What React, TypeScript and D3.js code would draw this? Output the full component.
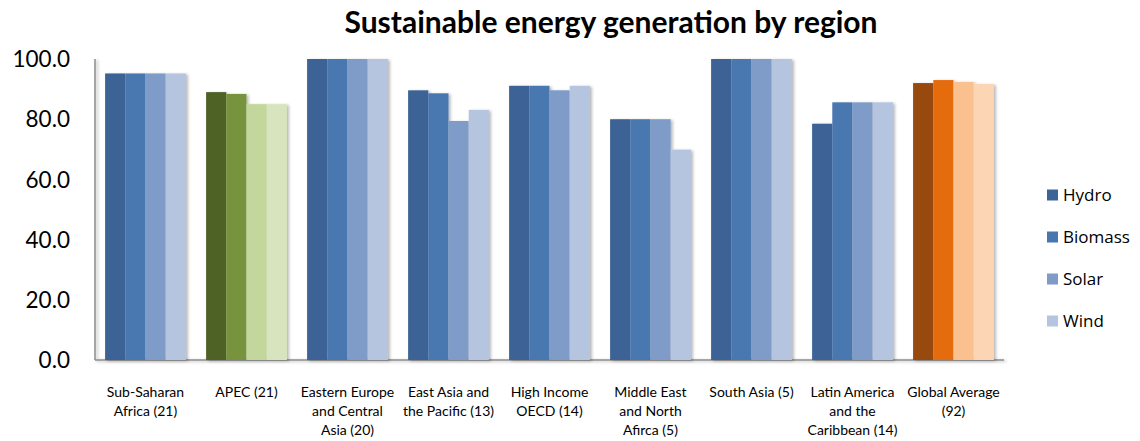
import React from "react";
import * as d3 from "d3";

const regions = [
  ["Sub-Saharan", "Africa (21)"],
  ["APEC (21)"],
  ["Eastern Europe", "and Central", "Asia (20)"],
  ["East Asia and", "the Pacific (13)"],
  ["High Income", "OECD (14)"],
  ["Middle East", "and North", "Afirca (5)"],
  ["South Asia (5)"],
  ["Latin America", "and the", "Caribbean (14)"],
  ["Global Average", "(92)"],
];

const sources = ["Hydro", "Biomass", "Solar", "Wind"];

const hydro = [95.2, 89.0, 100, 89.6, 91.1, 80.0, 100, 78.5, 92.0];
const biomass = [95.2, 88.4, 100, 88.6, 91.1, 80.0, 100, 85.6, 93.0];
const solar = [95.2, 85.0, 100, 79.4, 89.6, 80.0, 100, 85.6, 92.4];
const wind = [95.2, 85.0, 100, 83.1, 91.1, 69.9, 100, 85.6, 91.7];

const yTicks = [0, 20, 40, 60, 80, 100];

const bluePalette = ["#3C6496", "#4877AF", "#7F9BC7", "#B5C4DF"];
const greenPalette = ["#4F6228", "#77933C", "#C3D69B", "#D7E4BD"];
const orangePalette = ["#984807", "#E46C0A", "#FAC090", "#FCD5B5"];

const series = [hydro, biomass, solar, wind];

const W = 1140;
const H = 441;
const left = 95;
const right = 1004;
const top = 59;
const bottom = 360;
const FONT = "Lato, 'Open Sans', sans-serif";
const LEGEND_FONT = "'Open Sans', Lato, sans-serif";

export default function App() {
  const x0 = d3
    .scaleBand<number>()
    .domain(d3.range(regions.length))
    .range([left, right])
    .paddingInner(0.2)
    .paddingOuter(0.1);
  const x1 = d3
    .scaleBand<number>()
    .domain(d3.range(sources.length))
    .range([0, x0.bandwidth()]);
  const y = d3.scaleLinear().domain([0, 100]).range([bottom, top]);

  const paletteFor = (i: number) =>
    i === 1 ? greenPalette : i === regions.length - 1 ? orangePalette : bluePalette;

  return (
    <svg
      width={W}
      height={H}
      style={{ position: "absolute", left: 0, top: 0, background: "#fff" }}
    >
      <defs>
        <filter id="shadow" x="-20%" y="-5%" width="150%" height="115%">
          <feDropShadow dx="2" dy="1" stdDeviation="1.6" floodColor="#000" floodOpacity="0.28" />
        </filter>
      </defs>

      <text
        x={611}
        y={33}
        textAnchor="middle"
        fontFamily={FONT}
        fontWeight="bold"
        fontSize={30}
        fill="#000"
      >
        Sustainable energy generation by region
      </text>

      {/* axis lines */}
      <g filter="url(#shadow)">
        <line x1={left} x2={left} y1={top} y2={bottom} stroke="#8C8C8C" strokeWidth={1.5} />
        <line x1={left} x2={right} y1={bottom} y2={bottom} stroke="#8C8C8C" strokeWidth={1.5} />
      </g>

      {/* y tick labels */}
      {yTicks.map((t) => (
        <text
          key={t}
          x={70}
          y={y(t)}
          dy="0.36em"
          textAnchor="end"
          fontFamily={FONT}
          fontSize={22.5}
          fill="#000"
        >
          {t.toFixed(1)}
        </text>
      ))}

      {/* bars */}
      {regions.map((_, i) => (
        <g key={i} transform={`translate(${x0(i)},0)`} filter="url(#shadow)">
          {series.map((vals, s) => (
            <rect
              key={s}
              x={x1(s)}
              y={y(vals[i])}
              width={x1.bandwidth()}
              height={y(0) - y(vals[i])}
              fill={paletteFor(i)[s]}
            />
          ))}
        </g>
      ))}

      {/* category labels */}
      {regions.map((lines, i) => (
        <text
          key={i}
          x={(x0(i) as number) + x0.bandwidth() / 2}
          y={397}
          textAnchor="middle"
          fontFamily={FONT}
          fontSize={14}
          fill="#000"
        >
          {lines.map((l, k) => (
            <tspan key={k} x={(x0(i) as number) + x0.bandwidth() / 2} dy={k === 0 ? 0 : 19}>
              {l}
            </tspan>
          ))}
        </text>
      ))}

      {/* legend */}
      {sources.map((s, k) => (
        <g key={s} transform={`translate(1047, ${195 + k * 42})`}>
          <rect x={0} y={-5.5} width={11} height={11} fill={bluePalette[k]} />
          <text x={16} y={0} dy="0.36em" fontFamily={LEGEND_FONT} fontSize={17} fill="#000">
            {s}
          </text>
        </g>
      ))}
    </svg>
  );
}
